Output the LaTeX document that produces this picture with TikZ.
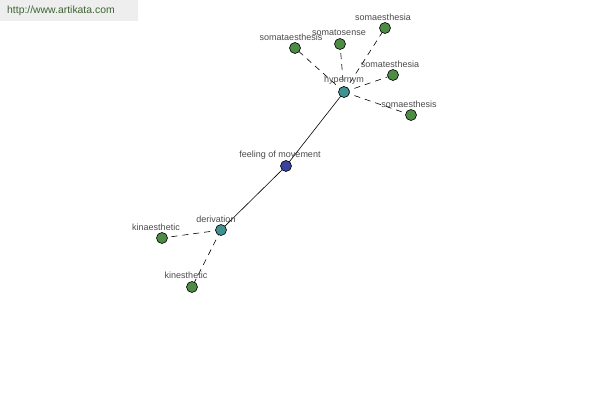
\documentclass[tikz,border=0pt]{standalone}
\usepackage{fontspec}
\setmainfont{Liberation Sans}
\begin{document}
\begin{tikzpicture}[x=1pt,y=-1pt,
  dot/.style={circle,draw=black,line width=0.6pt,minimum size=11pt,inner sep=0pt},
  leaf/.style={dot,fill=leafgreen},
  mid/.style={dot,fill=midteal},
  core/.style={dot,fill=coreblue},
  lbl/.style={font=\fontsize{9}{10}\selectfont,text=labelgray,inner sep=0pt},
  rel/.style={line width=0.6pt,dash pattern=on 6pt off 5pt},
  main/.style={line width=0.6pt}]
\definecolor{leafgreen}{RGB}{78,140,70}
\definecolor{midteal}{RGB}{64,146,146}
\definecolor{coreblue}{RGB}{58,68,158}
\definecolor{labelgray}{RGB}{75,75,75}
\definecolor{bannergray}{RGB}{238,238,238}
\definecolor{bannertext}{RGB}{60,100,50}
\useasboundingbox (0,0) rectangle (600,400);
\fill[white] (0,0) rectangle (600,400);
\fill[bannergray] (0,0) rectangle (138,21);
\node[font=\fontsize{10.4}{12}\selectfont,text=bannertext,anchor=west,inner sep=0pt] (url) at (7,11) {http://www.artikata.com};
% nodes
\coordinate (h) at (344,92);
\coordinate (f) at (286,166);
\coordinate (d) at (221,230);
\coordinate (ka) at (162,238);
\coordinate (ke) at (192,287);
\coordinate (s1) at (295,48);
\coordinate (s2) at (340,44);
\coordinate (s3) at (385,28);
\coordinate (s4) at (393,75);
\coordinate (s5) at (411,115);
% edges
\draw[main] (h) -- (f);
\draw[main] (f) -- (d);
\foreach \t in {s1,s2,s3,s4,s5} \draw[rel] (h) -- (\t);
\draw[rel] (d) -- (ka);
\draw[rel] (d) -- (ke);
% dots
\node[mid] (hn) at (h) {};
\node[core] (fn) at (f) {};
\node[mid] (dn) at (d) {};
\node[leaf] (kan) at (ka) {};
\node[leaf] (ken) at (ke) {};
\node[leaf] (s1n) at (s1) {};
\node[leaf] (s2n) at (s2) {};
\node[leaf] (s3n) at (s3) {};
\node[leaf] (s4n) at (s4) {};
\node[leaf] (s5n) at (s5) {};
% labels
\node[lbl] (hl) at (344,80) {hypernym};
\node[lbl] (fl) at (280,155) {feeling of movement};
\node[lbl] (dl) at (216,219) {derivation};
\node[lbl] (kal) at (156,227) {kinaesthetic};
\node[lbl] (kel) at (186,275) {kinesthetic};
\node[lbl] (s1l) at (291,37) {somataesthesis};
\node[lbl] (s2l) at (339,33) {somatosense};
\node[lbl] (s3l) at (383,17) {somaesthesia};
\node[lbl] (s4l) at (390,64) {somatesthesia};
\node[lbl] (s5l) at (409,104) {somaesthesis};
\end{tikzpicture}
\end{document}
